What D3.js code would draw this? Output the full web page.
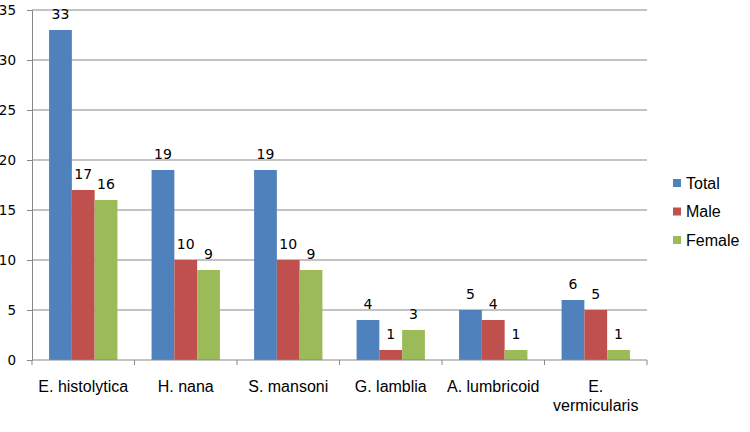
<!DOCTYPE html>
<html>
<head>
<meta charset="utf-8">
<script src="https://cdn.jsdelivr.net/npm/d3@7"></script>
<style>
  body { margin: 0; background: #fff; }
  text { font-family: "Liberation Sans", Arial, sans-serif; fill: #000; }
  .num { font-family: "DejaVu Sans", Verdana, sans-serif; }
</style>
</head>
<body>
<svg id="chart" width="750" height="432"></svg>
<script>
// parasite counts
var categories = ["E. histolytica", "H. nana", "S. mansoni", "G. lamblia", "A. lumbricoid", "E. vermicularis"];
var seriesNames = ["Total", "Male", "Female"];
var totalValues = [33, 19, 19, 4, 5, 6];
var maleValues = [17, 10, 10, 1, 4, 5];
var femaleValues = [16, 9, 9, 3, 1, 1];
var yTicks = [0, 5, 10, 15, 20, 25, 30, 35];

var colors = { Total: "#4F81BD", Male: "#C0504D", Female: "#9BBB59" };
var seriesValues = { Total: totalValues, Male: maleValues, Female: femaleValues };

var margin = { top: 10, left: 32, right: 103, bottom: 72 };
var width = 750 - margin.left - margin.right,
    height = 432 - margin.top - margin.bottom;

var svg = d3.select("#chart");
var g = svg.append("g").attr("transform", "translate(" + margin.left + "," + margin.top + ")");

var x = d3.scaleBand().domain(categories).range([0, width]).padding(0);
var xInner = d3.scaleBand().domain(seriesNames).range([0, x.bandwidth()])
    .paddingInner(0).paddingOuter(0.75);
var y = d3.scaleLinear().domain([0, 35]).range([height, 0]);

// gridlines
g.selectAll(".grid").data(yTicks.slice(1)).enter().append("line")
    .attr("class", "grid")
    .attr("x1", 0).attr("x2", width)
    .attr("y1", function (d) { return y(d); })
    .attr("y2", function (d) { return y(d); })
    .attr("stroke", "#878787").attr("stroke-width", 1);

// y axis
var yAxis = g.append("g").call(d3.axisLeft(y).tickValues(yTicks).tickSize(5).tickPadding(11));
yAxis.select(".domain").attr("stroke", "#878787");
yAxis.selectAll(".tick line").attr("stroke", "#878787");
yAxis.selectAll("text").attr("class", "num").style("font-size", "13.5px").attr("fill", "#000");

// bars
var groups = g.selectAll(".cat").data(categories).enter().append("g")
    .attr("class", "cat")
    .attr("transform", function (d) { return "translate(" + x(d) + ",0)"; });

function rowsFor(d, i) {
    return seriesNames.map(function (s) { return { s: s, v: seriesValues[s][i] }; });
}

groups.selectAll("rect")
    .data(rowsFor)
    .enter().append("rect")
    .attr("x", function (d) { return xInner(d.s); })
    .attr("width", xInner.bandwidth())
    .attr("y", function (d) { return y(d.v); })
    .attr("height", function (d) { return height - y(d.v); })
    .attr("fill", function (d) { return colors[d.s]; });

groups.selectAll(".lbl")
    .data(rowsFor)
    .enter().append("text")
    .attr("class", "lbl num")
    .attr("x", function (d) { return xInner(d.s) + xInner.bandwidth() / 2; })
    .attr("y", function (d) { return y(d.v) - 11.5; })
    .attr("text-anchor", "middle")
    .style("font-size", "14px")
    .text(function (d) { return d.v; });

// x axis line and ticks at band boundaries
g.append("line").attr("x1", 0).attr("x2", width).attr("y1", height).attr("y2", height)
    .attr("stroke", "#878787");
var bounds = categories.map(function (c) { return x(c); }).concat([width]);
g.selectAll(".xtick").data(bounds).enter().append("line")
    .attr("x1", function (d) { return d; }).attr("x2", function (d) { return d; })
    .attr("y1", height).attr("y2", height + 5)
    .attr("stroke", "#878787");

// x labels, the long one wrapped
g.selectAll(".xlbl").data(categories).enter().append("text")
    .attr("class", "xlbl")
    .attr("text-anchor", "middle")
    .style("font-size", "16px")
    .each(function (d) {
        var t = d3.select(this);
        var cx = x(d) + x.bandwidth() / 2;
        var lines = d === "E. vermicularis" ? ["E.", "vermicularis"] : [d];
        lines.forEach(function (ln, k) {
            t.append("tspan").attr("x", cx).attr("y", height + 32 + k * 19).text(ln);
        });
    });

// legend
var legend = svg.append("g").attr("transform", "translate(673,179)");
seriesNames.forEach(function (s, i) {
    var row = legend.append("g").attr("transform", "translate(0," + (i * 28.5) + ")");
    row.append("rect").attr("width", 8).attr("height", 8).attr("fill", colors[s]);
    row.append("text").attr("x", 13).attr("y", 9.5).style("font-size", "16px").text(s);
});
</script>
</body>
</html>
